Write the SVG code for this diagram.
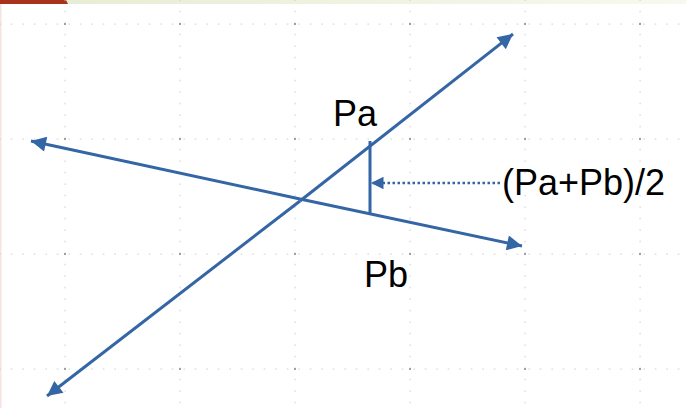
<svg xmlns="http://www.w3.org/2000/svg" width="686" height="408" viewBox="0 0 686 408">
<defs>
<linearGradient id="topg" x1="0" y1="0" x2="1" y2="0">
<stop offset="0" stop-color="#e6ecd2"/>
<stop offset="1" stop-color="#f7f9ee"/>
</linearGradient>
<pattern id="minorH" x="-4" y="0" width="11.5" height="115" patternUnits="userSpaceOnUse">
<rect x="3.5" y="23.5" width="1.2" height="1.2" fill="#c8c8c8"/>
</pattern>
<pattern id="minorV" x="0" y="-4" width="115" height="11.5" patternUnits="userSpaceOnUse">
<rect x="64.5" y="3.5" width="1.2" height="1.2" fill="#c8c8c8"/>
</pattern>
<pattern id="major" x="0" y="0" width="115" height="115" patternUnits="userSpaceOnUse">
<rect x="64" y="23" width="2" height="2" fill="#a0a0a0"/>
</pattern>
<marker id="ah" viewBox="0 0 10 10" refX="10" refY="5" markerWidth="6.5" markerHeight="5" markerUnits="strokeWidth" orient="auto">
<path d="M0,0 L10,5 L0,10 z" fill="#3465a4"/>
</marker>
<marker id="ahs" viewBox="0 0 10 10" refX="10" refY="5" markerWidth="6" markerHeight="5" markerUnits="strokeWidth" orient="auto">
<path d="M0,0 L10,5 L0,10 z" fill="#3465a4"/>
</marker>
</defs>
<style>
.ln{stroke:#3465a4;stroke-width:3;fill:none}
.lbl{font-family:"Liberation Sans",Arial,sans-serif;font-size:36px;fill:#000}
</style>
<rect width="686" height="408" fill="#ffffff"/>
<rect x="0" y="0" width="686" height="4" fill="url(#topg)"/>
<path d="M0,0 H66 L68,4 H0 z" fill="#a8321a"/>
<rect x="0" y="4" width="1.5" height="404" fill="#f6e4e0"/>
<g id="grid">
<rect x="0" y="0" width="686" height="408" fill="url(#minorH)"/>
<rect x="0" y="0" width="686" height="408" fill="url(#minorV)"/>
<rect x="0" y="0" width="686" height="408" fill="url(#major)"/>
</g>
<g id="connectors">
<line id="lineA" class="ln" x1="300" y1="201" x2="513" y2="34" marker-end="url(#ah)"/>
<line id="lineA2" class="ln" x1="300" y1="201" x2="47" y2="396" marker-end="url(#ah)"/>
<line id="lineB" class="ln" x1="300" y1="199" x2="31" y2="141" marker-end="url(#ah)"/>
<line id="lineB2" class="ln" x1="300" y1="199" x2="522" y2="246" marker-end="url(#ah)"/>
<line id="seg" class="ln" x1="370" y1="141" x2="370" y2="215"/>
<line id="mid" x1="500" y1="183" x2="371" y2="183" stroke="#3465a4" stroke-width="2.5" stroke-dasharray="2.5 2.5" marker-end="url(#ahs)"/>
</g>
<g id="Pa"><text class="lbl" x="333" y="126">Pa</text></g>
<g id="Pb"><text class="lbl" x="364" y="287">Pb</text></g>
<g id="mean"><text class="lbl" x="502" y="195">(Pa+Pb)/2</text></g>
</svg>
